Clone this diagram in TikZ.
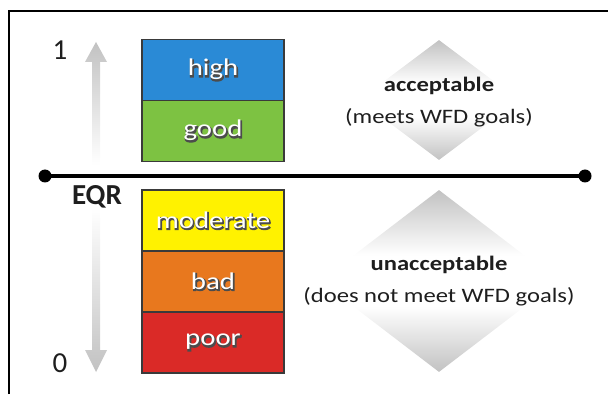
\documentclass[tikz,border=0pt]{standalone}
\usepackage{fontspec}
\setmainfont{Carlito}[FakeStretch=1.2]
\newfontfamily\plainfont{Carlito}
\usepackage{xcolor}
\definecolor{highblue}{HTML}{2A8AD6}
\definecolor{goodgreen}{HTML}{7DC242}
\definecolor{modyellow}{HTML}{FFF200}
\definecolor{badorange}{HTML}{E8781E}
\definecolor{poorred}{HTML}{DA2A27}
\definecolor{textdark}{HTML}{1E1E1E}
\definecolor{boxedge}{HTML}{3A3A3A}
\definecolor{fadegray}{HTML}{C2C2C2}
\usetikzlibrary{shapes.geometric,positioning}
\pgfdeclareverticalshading{verdictfade}{100bp}{color(0bp)=(fadegray); color(25bp)=(fadegray); color(43bp)=(white); color(57bp)=(white); color(75bp)=(fadegray); color(100bp)=(fadegray)}
\newcommand{\embossed}[1]{\rlap{\kern0.9pt\raisebox{-1.1pt}{\color{black!70}\special{pdf:literal direct 1.5 w 2 Tr}#1\special{pdf:literal direct 0 Tr}}}#1}

\begin{document}
\begin{tikzpicture}[x=1pt, y=1pt,
    status/.style={rectangle, draw=boxedge, line width=1.2pt, minimum width=142pt, minimum height=61pt, inner sep=0pt, outer sep=0pt, text=white, font=\fontsize{24}{28}\selectfont},
    verdict/.style={diamond, inner sep=0pt, shading=verdictfade},
    verdicttext/.style={align=center, text=textdark, font=\fontsize{20.5}{32}\selectfont},
    scalelabel/.style={anchor=base, text=textdark, font=\plainfont\fontsize{29}{29}\selectfont},
    dot/.style={circle, fill=black, minimum size=13pt, inner sep=0pt},
  ]
    \useasboundingbox (0,0) rectangle (608,394);
    \draw[line width=2.5pt] (9,0) -- (9,383) -- (608,383);
    \shade[top color=fadegray, middle color=fadegray!70, bottom color=white] (92,229) -- (92,332) -- (85,332) -- (96,352) -- (107,332) -- (100,332) -- (100,229) -- cycle;
    \shade[top color=white, middle color=fadegray!70, bottom color=fadegray] (92,186) -- (92,44) -- (85,44) -- (96,22) -- (107,44) -- (100,44) -- (100,186) -- cycle;
    \node[scalelabel] (one) at (60,334.5) {1};
    \node[scalelabel] (zero) at (60,22) {0};
    \node[scalelabel, font=\plainfont\bfseries\fontsize{29}{29}\selectfont] (eqr) at (97,189) {EQR};
    \node[status, fill=highblue] (high) at (213,324) {\embossed{high}};
    \node[status, fill=goodgreen, below=0pt of high] (good) {\embossed{good}};
    \node[status, fill=modyellow] (moderate) at (213,173.5) {\embossed{moderate}};
    \node[status, fill=badorange, below=0pt of moderate] (bad) {\embossed{bad}};
    \node[status, fill=poorred, below=0pt of bad] (poor) {\embossed{poor}};
    \node[verdict, minimum width=160pt, minimum height=120pt] (accd) at (439,294) {};
    \node[verdict, minimum width=238pt, minimum height=182pt] (unaccd) at (439,113) {};
    \node[verdicttext] (acctext) at (439,292) {\textbf{acceptable}\\(meets WFD goals)};
    \node[verdicttext] (unacctext) at (439,113) {\textbf{unacceptable}\\(does not meet WFD goals)};
    \node[dot] (ldot) at (45,218) {};
    \node[dot] (rdot) at (585,218) {};
    \draw[line width=3.5pt] (ldot.center) -- (rdot.center);
  \end{tikzpicture}
\end{document}
